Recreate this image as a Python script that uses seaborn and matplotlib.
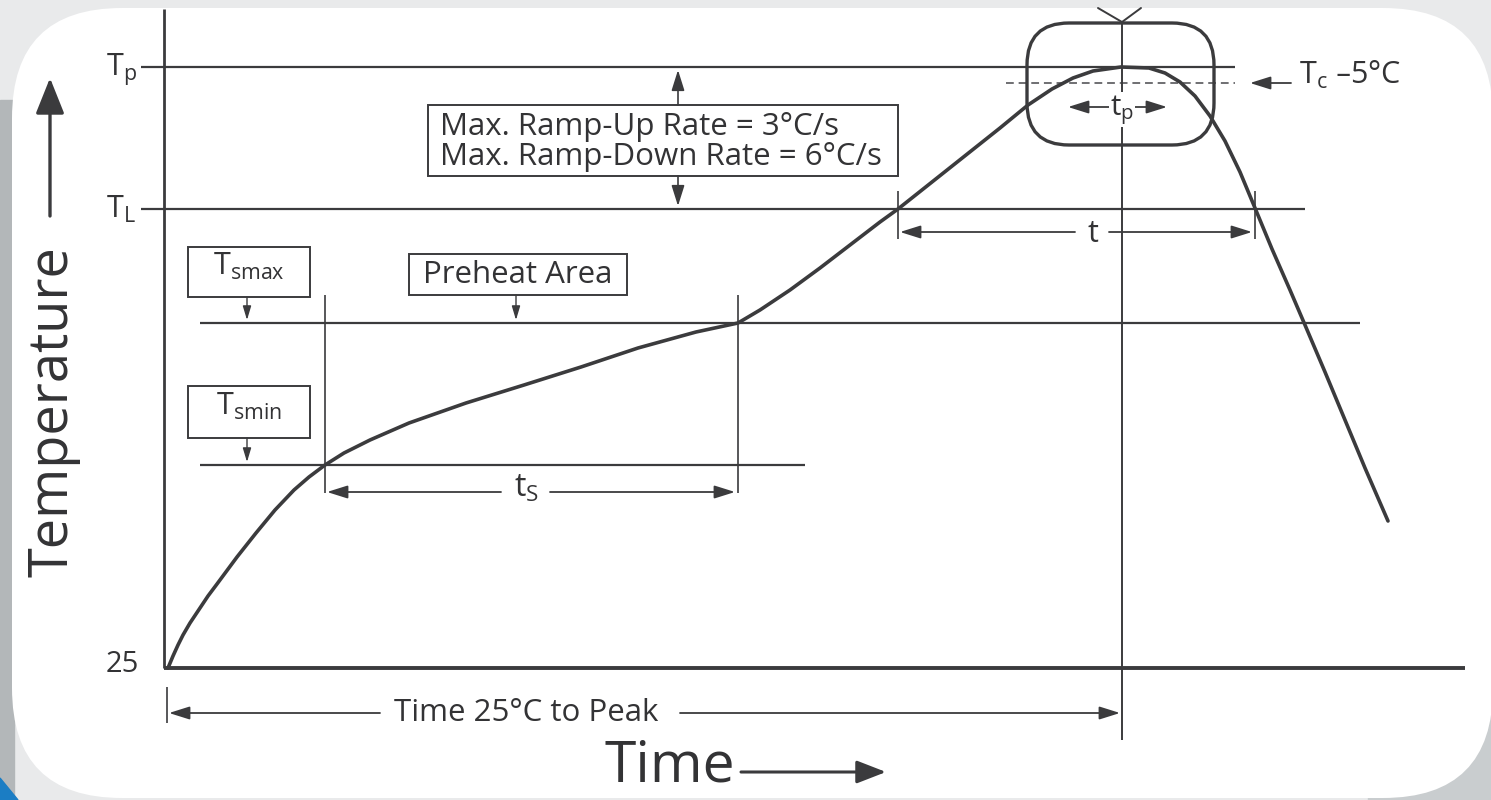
import numpy as np
import matplotlib
matplotlib.use("Agg")
import matplotlib.pyplot as plt
from matplotlib.patches import FancyBboxPatch, Rectangle, Polygon
import seaborn as sns

# Reflow profile (schematic units: time to the right of t=0, temperature above the 25 °C line)
profile_time = [0, 5, 10, 15, 22, 30, 40, 49, 69, 88, 107, 126, 141, 157, 176, 202, 241,
                298, 356, 413, 470, 528, 570, 592, 622, 652, 682, 712, 730, 764, 798, 832,
                860, 884, 905, 925, 953, 981, 997, 1012, 1027, 1042, 1057, 1072, 1087,
                1104, 1122, 1137, 1157, 1177, 1197, 1220]
profile_temp = [0, 12, 23, 33, 45, 57, 72, 84, 111, 135, 158, 178, 191, 203, 215, 228, 245,
                265, 283, 301, 320, 336, 345, 358, 378, 400, 423, 446, 459, 486, 513, 540,
                563, 579, 590, 597, 601, 600, 595, 586, 572, 552, 527, 496, 460,
                419, 378, 343, 296, 248, 200, 147]

# Temperature levels
T_P = 601
T_C5 = 585
T_L = 459
T_SMAX = 345
T_SMIN = 203

# Time markers
TS_START, TS_END = 157, 570
TL_START, TL_END = 730, 1087
T_PEAK = 954

LINE = "#3b3b3d"
TEXT = "#333335"
FONT = ["Open Sans", "DejaVu Sans"]

sns.set_theme(style="white")
plt.rcParams["font.family"] = FONT
plt.rcParams["mathtext.default"] = "regular"

fig = plt.figure(figsize=(14.91, 8), dpi=100)
fig.patch.set_facecolor("#e9eaeb")
ax = fig.add_axes([0, 0, 1, 1])
ax.set_xlim(-168, 1323)
ax.set_ylim(-132, 668)
ax.axis("off")

# background card
ax.add_patch(Rectangle((-168, -132), 14, 700, color="#b3b7b9", zorder=0))
ax.add_patch(Polygon([[-168, -132], [-150, -132], [-168, -110]], color="#1b7dc4", zorder=0))
ax.add_patch(Rectangle((1200, -132), 123, 200, color="#c9cdcf", zorder=0))
ax.add_patch(FancyBboxPatch((-156, -130), 1481, 790,
                            boxstyle="round,pad=0,rounding_size=110",
                            facecolor="white", edgecolor="none", zorder=0.5))


def arrow(x0, y0, x1, y1, lw=1.3, hl=0.7, hw=0.22, ms=18):
    ax.annotate("", xy=(x1, y1), xytext=(x0, y0),
                arrowprops=dict(arrowstyle=f"-|>,head_length={hl},head_width={hw}",
                                lw=lw, color=LINE, shrinkA=0, shrinkB=0,
                                mutation_scale=ms), zorder=3)


def hline(y, x0, x1, lw=1.6, color=LINE, **kw):
    ax.plot([x0, x1], [y, y], color=color, lw=lw, solid_capstyle="butt", zorder=2, **kw)


def vline(x, y0, y1, lw=1.2):
    ax.plot([x, x], [y0, y1], color=LINE, lw=lw, solid_capstyle="butt", zorder=2)


def box(x0, y0, x1, y1):
    ax.add_patch(Rectangle((x0, y0), x1 - x0, y1 - y0, facecolor="white",
                           edgecolor=LINE, lw=1.4, zorder=3))


# axes
vline(-4, 0, 659, lw=2.0)
hline(0, -4, 1297, lw=2.8)

# temperature levels
hline(T_P, -27, 1067)
hline(T_L, -27, 1137)
hline(T_SMAX, 32, 1192)
hline(T_SMIN, 32, 637)
hline(T_C5, 838, 1067, ls=(0, (4, 2.5)), lw=1.4, color="#6f6f72")

# profile curve
sns.lineplot(x=profile_time, y=profile_temp, sort=False, ax=ax, color=LINE,
             lw=2.6, zorder=4, solid_joinstyle="round")

# level labels
ax.text(-62, T_P - 9, "$T_p$", fontsize=22, color=TEXT, ha="left", va="baseline")
ax.text(-62, T_L - 9, "$T_L$", fontsize=22, color=TEXT, ha="left", va="baseline")
ax.text(-29, -4, "25", fontsize=21, color=TEXT, ha="right", va="baseline")

# Tc - 5 °C
arrow(1123, T_C5, 1082, T_C5, lw=1.3)
ax.text(1131, T_C5 - 1, "$T_c$ \u20135°C", fontsize=22, color=TEXT, ha="left", va="baseline")

# peak window
vline(T_PEAK, -72, 646, lw=1.4)
ax.plot([930, T_PEAK, 973], [660, 646, 660], color=LINE, lw=1.4, zorder=2)
ax.add_patch(FancyBboxPatch((859, 523), 187, 122,
                            boxstyle="round,pad=0,rounding_size=42",
                            facecolor="none", edgecolor=LINE, lw=2.4, zorder=3))
arrow(943, 561, 900, 561, lw=1.3)
arrow(965, 561, 999, 561, lw=1.3)
ax.text(T_PEAK, 553, "$t_p$", fontsize=21, color=TEXT, ha="center", va="baseline",
        bbox=dict(facecolor="white", edgecolor="none", pad=0.5), zorder=4)

# ramp rate box
box(260, 492, 730, 563)
ax.text(272, 533, "Max. Ramp-Up Rate = 3°C/s", fontsize=22.5, color=TEXT,
        va="baseline", zorder=4)
ax.text(272, 503, "Max. Ramp-Down Rate = 6°C/s", fontsize=22.5, color=TEXT,
        va="baseline", zorder=4)
arrow(510, 563, 510, T_P - 3, lw=1.2)
arrow(510, 492, 510, T_L + 3, lw=1.2)

# time above liquidus
vline(TL_START, T_L - 30, T_L + 18)
vline(TL_END, T_L - 30, T_L + 18)
arrow(907, T_L - 23, TL_START + 2, T_L - 23)
arrow(941, T_L - 23, TL_END - 3, T_L - 23)
ax.text(925, T_L - 33, "t", fontsize=22, color=TEXT, ha="center", va="baseline")

# soak boxes
box(20, 371, 142, 421)
ax.text(81, 393, "$T_{smax}$", fontsize=22, color=TEXT, ha="center", va="baseline", zorder=4)
box(241, 373, 459, 414)
ax.text(350, 385, "Preheat Area", fontsize=22.5, color=TEXT, ha="center", va="baseline",
        zorder=4)
box(20, 230, 142, 282)
ax.text(81, 253, "$T_{smin}$", fontsize=22, color=TEXT, ha="center", va="baseline", zorder=4)
arrow(79, 371, 79, T_SMAX + 3, lw=1.0, hl=0.6, hw=0.18, ms=14)
arrow(348, 373, 348, T_SMAX + 3, lw=1.0, hl=0.6, hw=0.18, ms=14)
arrow(79, 230, 79, T_SMIN + 3, lw=1.0, hl=0.6, hw=0.18, ms=14)

# soak time
vline(TS_START, 175, 373)
vline(TS_END, 175, 373)
arrow(333, 176, TS_START + 2, 176)
arrow(382, 176, TS_END - 3, 176)
ax.text(358, 171, "$t_S$", fontsize=23, color=TEXT, ha="center", va="baseline")

# time 25 °C to peak
vline(-1, -55, -19)
arrow(212, -45, 1, -45)
arrow(512, -45, T_PEAK - 2, -45)
ax.text(358, -53, "Time 25°C to Peak", fontsize=22.5, color=TEXT, ha="center", va="baseline")

# axis titles
ax.text(502, -114, "Time", fontsize=41, color=TEXT, ha="center", va="baseline")
arrow(573, -104, 718, -104, lw=2.2, hl=0.9, hw=0.35, ms=20)
ax.text(-115, 256, "Temperature", fontsize=39, color=TEXT, ha="center", va="center",
        rotation=90)
arrow(-118, 452, -118, 590, lw=2.4, hl=1.0, hw=0.4, ms=22)

fig.savefig("out.png", dpi=100, facecolor=fig.get_facecolor())
